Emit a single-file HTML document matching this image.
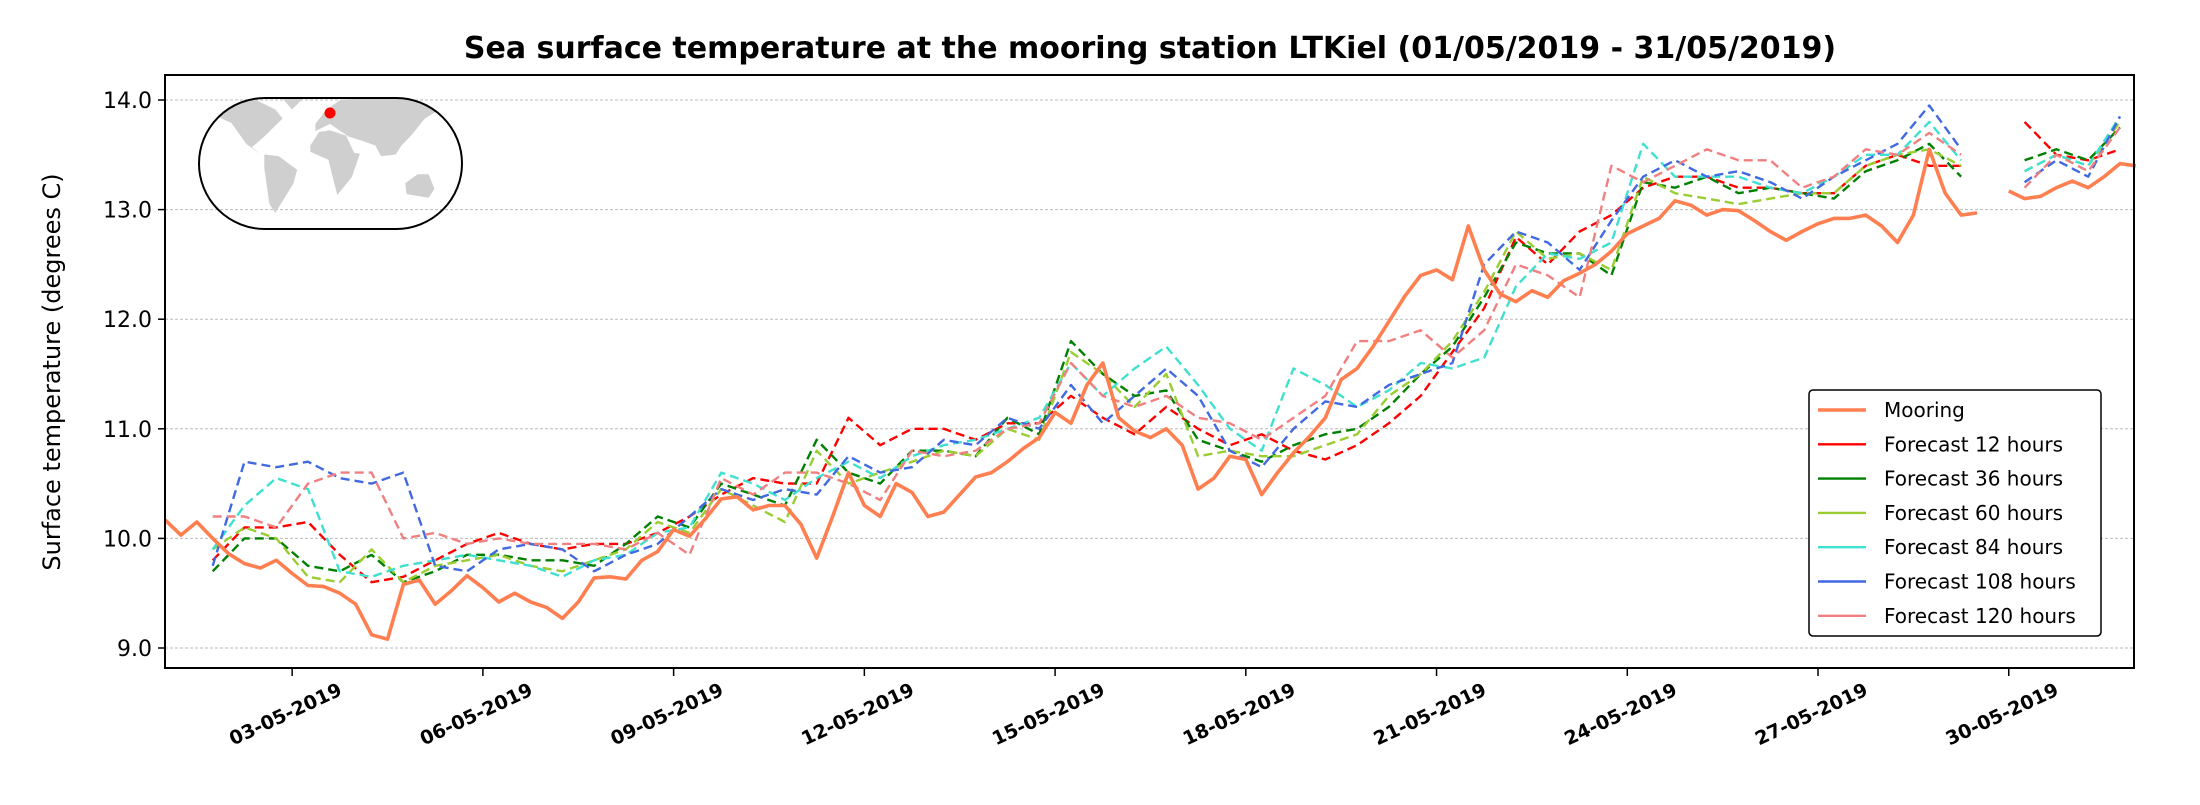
<!DOCTYPE html>
<html><head><meta charset="utf-8"><style>
body{margin:0;background:#fff;}
svg text{font-family:"DejaVu Sans","Liberation Sans",sans-serif;}
</style></head><body>
<svg id="chart" width="2200" height="800" viewBox="0 0 2200 800">
<text x="1150" y="58" text-anchor="middle" font-size="30" font-weight="bold">Sea surface temperature at the mooring station LTKiel (01/05/2019 - 31/05/2019)</text>
<text transform="translate(60,372) rotate(-90)" text-anchor="middle" font-size="24">Surface temperature (degrees C)</text>
<g id="grid"></g><g id="series"></g>
<rect x="165" y="75" width="1969" height="593" fill="none" stroke="#000" stroke-width="2"/>
<g id="ticks"></g>
<g>
<clipPath id="mc"><rect x="199" y="98" width="263" height="131" rx="66" ry="66"/></clipPath>
<g id="land" clip-path="url(#mc)" fill="#cfcfcf"></g>
<rect x="199" y="98" width="263" height="131" rx="66" ry="66" fill="none" stroke="#000" stroke-width="2"/>
<circle cx="330" cy="113" r="5.5" fill="#ff0000"/>
</g>
<g id="legend"></g>
</svg>
<script>
const yTicks=[9,10,11,12,13,14];
const xTickDays=[3,6,9,12,15,18,21,24,27,30];
const xTickLabels=["03-05-2019","06-05-2019","09-05-2019","12-05-2019","15-05-2019","18-05-2019","21-05-2019","24-05-2019","27-05-2019","30-05-2019"];
const seriesNames=["Mooring","Forecast 12 hours","Forecast 36 hours","Forecast 60 hours","Forecast 84 hours","Forecast 108 hours","Forecast 120 hours"];
const seriesColors=["#ff7f50","#ff0000","#008000","#9acd32","#40e0d0","#4169e1","#f08080"];
const mooring=[10.17,10.03,10.15,10.0, 9.86,9.77,9.73,9.80, 9.68,9.57,9.56,9.50, 9.40,9.12,9.08,9.58, 9.62,9.40,9.52,9.66, 9.55,9.42,9.50,9.42, 9.37,9.27,9.42,9.64, 9.65,9.63,9.80,9.88, 10.08,10.02,10.18,10.36, 10.38,10.26,10.30,10.30, 10.13,9.82,10.20,10.60, 10.30,10.20,10.50,10.42, 10.20,10.24,10.40,10.56, 10.60,10.70,10.82,10.92, 11.15,11.05,11.4,11.60, 11.1,10.98,10.92,11.0, 10.85,10.45,10.55,10.75, 10.72,10.40,10.60,10.78, 10.93,11.1,11.45,11.55, 11.75,11.98,12.21,12.4, 12.45,12.36,12.85,12.45, 12.23,12.16,12.26,12.2, 12.35,12.42,12.5,12.62, 12.78,12.85,12.92,13.08, 13.04,12.95,13.0,12.99, 12.90,12.80,12.72,12.80, 12.87,12.92,12.92,12.95, 12.85,12.70,12.95,13.55, 13.15,12.95,12.97,null, 13.17,13.10,13.12,13.20, 13.26,13.20,13.30,13.42, 13.40];
const f12=[9.8,10.1,10.1,10.15,9.85,9.6,9.65,9.8,9.95,10.05,9.95,9.9,9.95,9.95,10.05,10.2,10.4,10.55,10.5,10.5,11.1,10.85,11.0,11.0,10.9,11.05,11.05,11.3,11.1,10.95,11.2,11.0,10.85,10.95,10.8,10.72,10.85,11.05,11.3,11.7,12.1,12.75,12.5,12.8,12.95,13.2,13.3,13.3,13.2,13.2,13.15,13.15,13.4,13.5,13.4,13.4,null,13.8,13.5,13.45,13.55];
const f36=[9.7,10.0,10.0,9.75,9.7,9.85,9.6,9.7,9.85,9.85,9.8,9.8,9.75,9.95,10.2,10.1,10.5,10.4,10.3,10.9,10.6,10.5,10.8,10.8,10.75,11.1,10.95,11.8,11.5,11.3,11.35,10.9,10.8,10.7,10.85,10.95,11.0,11.2,11.5,11.75,12.2,12.7,12.6,12.6,12.4,13.25,13.2,13.3,13.15,13.2,13.15,13.1,13.35,13.45,13.6,13.3,null,13.45,13.55,13.45,13.75];
const f60=[9.9,10.1,10.0,9.65,9.6,9.9,9.6,9.75,9.8,9.85,9.75,9.7,9.8,9.9,10.15,10.05,10.45,10.3,10.15,10.8,10.5,10.6,10.7,10.8,10.75,11.0,10.9,11.7,11.5,11.2,11.5,10.75,10.8,10.75,10.75,10.85,10.95,11.3,11.5,11.8,12.25,12.8,12.55,12.6,12.45,13.3,13.15,13.1,13.05,13.1,13.15,13.15,13.4,13.5,13.55,13.4,null,13.35,13.5,13.4,13.8];
const f84=[9.9,10.3,10.55,10.45,9.7,9.65,9.75,9.8,9.85,9.8,9.75,9.65,9.8,9.85,10.05,10.1,10.6,10.5,10.35,10.55,10.7,10.55,10.75,10.85,10.9,11.0,11.1,11.6,11.3,11.55,11.75,11.4,11.0,10.8,11.55,11.4,11.2,11.35,11.6,11.55,11.65,12.3,12.6,12.55,12.7,13.6,13.3,13.3,13.3,13.2,13.15,13.3,13.5,13.5,13.8,13.45,null,13.35,13.5,13.4,13.85];
const f108=[9.75,10.7,10.65,10.7,10.55,10.5,10.6,9.75,9.7,9.9,9.95,9.9,9.7,9.85,9.95,10.2,10.45,10.35,10.45,10.4,10.75,10.6,10.65,10.9,10.85,11.1,11.0,11.4,11.05,11.3,11.55,11.3,10.8,10.65,11.0,11.25,11.2,11.4,11.5,11.6,12.5,12.8,12.7,12.45,12.9,13.3,13.45,13.3,13.35,13.25,13.1,13.3,13.45,13.6,13.95,13.55,null,13.25,13.45,13.3,13.85];
const f120=[10.2,10.2,10.1,10.5,10.6,10.6,10.0,10.05,9.95,10.0,9.95,9.95,9.95,9.9,10.05,9.85,10.55,10.4,10.6,10.6,10.5,10.35,10.8,10.75,10.8,11.0,11.05,11.6,11.3,11.2,11.3,11.1,11.05,10.9,11.1,11.3,11.8,11.8,11.9,11.65,11.9,12.5,12.4,12.2,13.4,13.25,13.4,13.55,13.45,13.45,13.2,13.3,13.55,13.5,13.7,13.5,null,13.2,13.5,13.35,13.75];
const mooringStart=1, mooringStep=0.25, fcStart=1.75, fcStep=0.5;

const NS="http://www.w3.org/2000/svg";
const X0=165,X1=2134,D0=1,D1=31.97,Y0=648,Y1=100,V0=9,V1=14;
function xs(d){return X0+(d-D0)/(D1-D0)*(X1-X0);}
function ys(v){return Y0+(v-V0)/(V1-V0)*(Y1-Y0);}
function mk(tag,attrs,parent){const e=document.createElementNS(NS,tag);for(const k in attrs)e.setAttribute(k,attrs[k]);parent.appendChild(e);return e;}
const continents=[
 [[-165,68],[-140,70],[-95,72],[-65,60],[-55,50],[-80,30],[-97,18],[-85,10],[-105,22],[-125,45],[-165,60]],
 [[-50,82],[-22,76],[-42,60],[-58,75]],
 [[-80,10],[-60,8],[-35,-7],[-40,-22],[-65,-55],[-73,-45],[-80,-5]],
 [[-17,20],[-5,35],[10,37],[32,31],[43,12],[51,11],[40,-15],[20,-35],[12,-10],[8,4],[-17,13]],
 [[-10,36],[-10,44],[5,60],[25,71],[70,73],[110,77],[180,68],[160,60],[140,50],[120,30],[108,20],[100,10],[80,8],[72,20],[55,25],[35,30],[10,44]],
 [[113,-22],[130,-12],[145,-12],[153,-28],[145,-38],[115,-34]],
 [[-180,-70],[180,-70],[180,-90],[-180,-90]]
];
const land=document.getElementById('land');
continents.forEach(c=>{
 const pts=c.map(p=>{let lon=p[0]-10;if(lon<-180)lon+=360;return (330+lon*0.73).toFixed(1)+','+(163.5-p[1]*0.9).toFixed(1);}).join(' ');
 const e=mk('polygon',{points:pts},land);
 
 
});
const grid=document.getElementById('grid'),ticks=document.getElementById('ticks'),ser=document.getElementById('series'),leg=document.getElementById('legend');
yTicks.forEach(v=>{
 const g=mk('line',{x1:X0,x2:X1,y1:ys(v),y2:ys(v),stroke:'#bbb','stroke-width':1,'stroke-dasharray':'3,2'},grid);
 
 
 const t=mk('line',{x1:X0-7,x2:X0,y1:ys(v),y2:ys(v),stroke:'#000','stroke-width':1.5},ticks);
 
 
 const l=mk('text',{x:X0-13,y:ys(v)+8,'text-anchor':'end','font-size':22},ticks);
 l.textContent=v.toFixed(1);
 
 
});
xTickDays.forEach((d,i)=>{
 const x=xs(d);
 const t=mk('line',{x1:x,x2:x,y1:668,y2:676,stroke:'#000','stroke-width':1.5},ticks);
 
 
 const l=mk('text',{x:0,y:0,'text-anchor':'middle','font-size':19,'font-weight':'bold',transform:`translate(${x-4},${720}) rotate(-25)`},ticks);
 l.textContent=xTickLabels[i];
 
 
});
function drawSeries(vals,start,step,color,w,dash,name){
 let d='',pen=false;
 vals.forEach((v,i)=>{
  if(v===null){pen=false;return;}
  const x=xs(start+i*step),y=ys(v);
  d+=(pen?'L':'M')+x.toFixed(1)+' '+y.toFixed(1)+' ';pen=true;
 });
 const p=mk('path',{d:d,fill:'none',stroke:color,'stroke-width':w,'stroke-linejoin':'round'},ser);
 if(dash)p.setAttribute('stroke-dasharray',dash);
 
 
}
const fcs=[f12,f36,f60,f84,f108,f120];
fcs.forEach((s,i)=>drawSeries(s,fcStart,fcStep,seriesColors[i+1],2.4,'9,5','forecast-line'));
drawSeries(mooring,mooringStart,mooringStep,seriesColors[0],3.6,null,'mooring-line');
const lb=mk('rect',{x:1809,y:390,width:292,height:246,rx:4,fill:'#fff',stroke:'#000','stroke-width':1.5},leg);


seriesNames.forEach((n,i)=>{
 const y=410+i*34.3;
 const ln=mk('line',{x1:1818,x2:1866,y1:y,y2:y,stroke:seriesColors[i],'stroke-width':i?2.4:3.6},leg);
 
 
 const t=mk('text',{x:1884,y:y+7,'font-size':20},leg);
 t.textContent=n;
 
 
});
</script>
</body></html>
